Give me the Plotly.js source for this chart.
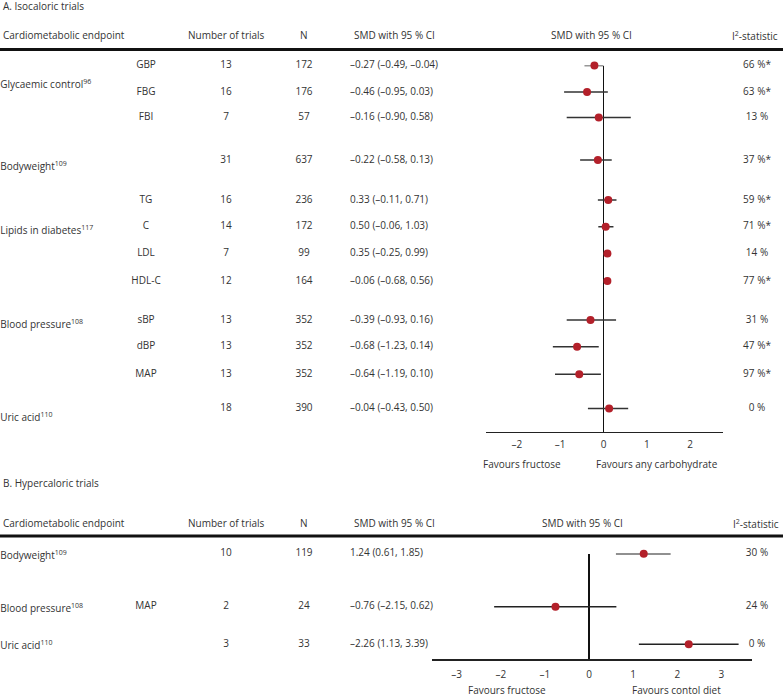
<!DOCTYPE html>
<html>
<head>
<meta charset="utf-8">
<script src="https://cdn.plot.ly/plotly-3.0.1.min.js"></script>
<style>html,body{margin:0;padding:0;background:#fff;}#chart{width:783px;height:698px;}</style>
</head>
<body>
<div id="chart"></div>
<script>
// ---------- DATA: Panel A (isocaloric trials) ----------
const groupsA = ['Glycaemic control<sup>96</sup>', 'Bodyweight<sup>109</sup>', 'Lipids in diabetes<sup>117</sup>', 'Blood pressure<sup>108</sup>', 'Uric acid<sup>110</sup>'];
const subEndpointsA = ['GBP', 'FBG', 'FBI', '', 'TG', 'C', 'LDL', 'HDL-C', 'sBP', 'dBP', 'MAP', ''];
const trialsA = [13, 16, 7, 31, 16, 14, 7, 12, 13, 13, 13, 18];
const nA = [172, 176, 57, 637, 236, 172, 99, 164, 352, 352, 352, 390];
const smdTextA = ['–0.27 (–0.49, –0.04)', '–0.46 (–0.95, 0.03)', '–0.16 (–0.90, 0.58)', '–0.22 (–0.58, 0.13)',
  '0.33 (–0.11, 0.71)', '0.50 (–0.06, 1.03)', '0.35 (–0.25, 0.99)', '–0.06 (–0.68, 0.56)',
  '–0.39 (–0.93, 0.16)', '–0.68 (–1.23, 0.14)', '–0.64 (–1.19, 0.10)', '–0.04 (–0.43, 0.50)'];
const i2A = ['66 %*', '63 %*', '13 %', '37 %*', '59 %*', '71 %*', '14 %', '77 %*', '31 %', '47 %*', '97 %*', '0 %'];
// plotted positions as drawn in the figure
const estA = [-0.21, -0.38, -0.11, -0.13, 0.11, 0.05, 0.09, 0.09, -0.30, -0.61, -0.56, 0.13];
const loA  = [-0.44, -0.91, -0.85, -0.54, -0.13, -0.12, 0.09, 0.09, -0.85, -1.17, -1.12, -0.36];
const hiA  = [0.00, 0.10, 0.63, 0.19, 0.30, 0.23, 0.09, 0.09, 0.29, -0.11, -0.06, 0.57];
const tickValsA = [-2, -1, 0, 1, 2];
const tickTextA = ['–2', '–1', '0', '1', '2'];

// ---------- DATA: Panel B (hypercaloric trials) ----------
const groupsB = ['Bodyweight<sup>109</sup>', 'Blood pressure<sup>108</sup>', 'Uric acid<sup>110</sup>'];
const subEndpointsB = ['', 'MAP', ''];
const trialsB = [10, 2, 3];
const nB = [119, 24, 33];
const smdTextB = ['1.24 (0.61, 1.85)', '–0.76 (–2.15, 0.62)', '–2.26 (1.13, 3.39)'];
const i2B = ['30 %', '24 %', '0 %'];
const estB = [1.24, -0.76, 2.26];
const loB  = [0.61, -2.15, 1.13];
const hiB  = [1.85, 0.62, 3.39];
const tickValsB = [-3, -2, -1, 0, 1, 2, 3];
const tickTextB = ['–3', '–2', '–1', '0', '1', '2', '3'];

// ---------- LAYOUT (pixel positions) ----------
const W = 783, H = 698;
const rowYA = [65.5, 92, 117.5, 160, 200, 226.7, 253.5, 281, 320, 346.7, 374.3, 408.5];
const groupYA = [85.2, 167.5, 231.8, 325.8, 418.5];
const rowYB = [553.7, 606.7, 644.3];
const groupYB = [556.2, 609.2, 646.8];
const axisYA = 431.7, axisYB = 659.3;
const colX = {label: 0.2, sub: 146, trials: 226, n: 304, smd: 350, i2: 757};
const FONT = 'Open Sans, Liberation Sans, Arial, sans-serif';
const TXT = '#333333';
const FS = 10;
const RED = '#b3202a';

function textTrace(xPos, ys, texts, pos) {
  const xs = [], yy = [], tt = [];
  texts.forEach((t, i) => { if (t !== '') { xs.push(xPos); yy.push(ys[i]); tt.push(t); } });
  return {type: 'scatter', mode: 'text', x: xs, y: yy, text: tt, textposition: pos,
    textfont: {family: FONT, size: FS, color: TXT}, xaxis: 'x3', yaxis: 'y3',
    hoverinfo: 'skip', showlegend: false, cliponaxis: false};
}

const traces = [];
// Panel A table
traces.push(textTrace(colX.label, groupYA, groupsA, 'middle right'));
traces.push(textTrace(colX.sub, rowYA, subEndpointsA, 'middle center'));
traces.push(textTrace(colX.trials, rowYA, trialsA.map(String), 'middle center'));
traces.push(textTrace(colX.n, rowYA, nA.map(String), 'middle center'));
traces.push(textTrace(colX.smd, rowYA, smdTextA, 'middle right'));
traces.push(textTrace(colX.i2, rowYA, i2A, 'middle center'));
// Panel B table
traces.push(textTrace(colX.label, groupYB, groupsB, 'middle right'));
traces.push(textTrace(colX.sub, rowYB, subEndpointsB, 'middle center'));
traces.push(textTrace(colX.trials, rowYB, trialsB.map(String), 'middle center'));
traces.push(textTrace(colX.n, rowYB, nB.map(String), 'middle center'));
traces.push(textTrace(colX.smd, rowYB, smdTextB, 'middle right'));
traces.push(textTrace(colX.i2, rowYB, i2B, 'middle center'));

// Forest markers
traces.push({type: 'scatter', mode: 'markers', x: estA, y: rowYA, xaxis: 'x', yaxis: 'y',
  marker: {color: RED, size: 8}, cliponaxis: false, hoverinfo: 'skip', showlegend: false,
  error_x: {type: 'data', symmetric: false, array: hiA.map((h, i) => h - estA[i]),
    arrayminus: loA.map((l, i) => estA[i] - l), width: 0, thickness: 1.5, color: '#333'}});
traces.push({type: 'scatter', mode: 'markers', x: estB, y: rowYB, xaxis: 'x2', yaxis: 'y2',
  marker: {color: RED, size: 8}, cliponaxis: false, hoverinfo: 'skip', showlegend: false,
  error_x: {type: 'data', symmetric: false, array: hiB.map((h, i) => h - estB[i]),
    arrayminus: loB.map((l, i) => estB[i] - l), width: 0, thickness: 1.5, color: '#222'}});

const forestAxis = {showline: true, linecolor: '#222', linewidth: 1.5, zeroline: true,
  zerolinecolor: '#111', zerolinewidth: 1.5, showgrid: false, ticks: '',
  tickfont: {family: FONT, size: FS, color: TXT}, fixedrange: true};

function ann(x, y, text, xanchor, extra) {
  return Object.assign({x: x, y: y, xref: 'x3', yref: 'y3', text: text, showarrow: false,
    xanchor: xanchor, yanchor: 'middle', font: {family: FONT, size: FS, color: TXT}}, extra || {});
}

const annotations = [
  ann(1, 6, 'A. Isocaloric trials', 'left'),
  ann(1, 35, 'Cardiometabolic endpoint', 'left'),
  ann(226, 35, 'Number of trials', 'center'),
  ann(304, 35, 'N', 'center'),
  ann(352, 35, 'SMD with 95 % CI', 'left'),
  ann(591, 35, 'SMD with 95 % CI', 'center'),
  ann(780, 36, 'I<sup>2</sup>-statistic', 'right'),
  ann(521.7, 464, 'Favours fructose', 'center'),
  ann(656.7, 464, 'Favours any carbohydrate', 'center'),
  ann(1, 483.3, 'B. Hypercaloric trials', 'left'),
  ann(1, 523.3, 'Cardiometabolic endpoint', 'left'),
  ann(226, 523.3, 'Number of trials', 'center'),
  ann(304, 523.3, 'N', 'center'),
  ann(352, 523.3, 'SMD with 95 % CI', 'left'),
  ann(582, 523.3, 'SMD with 95 % CI', 'center'),
  ann(781, 524.3, 'I<sup>2</sup>-statistic', 'right'),
  ann(506.7, 690, 'Favours fructose', 'center'),
  ann(676, 690, 'Favours contol diet', 'center')
];

const layout = {
  width: W, height: H, margin: {l: 0, r: 0, t: 0, b: 0},
  paper_bgcolor: '#fff', plot_bgcolor: 'rgba(0,0,0,0)', showlegend: false,
  font: {family: FONT, size: FS, color: TXT},
  xaxis: Object.assign({}, forestAxis, {domain: [486 / W, 723.3 / W], range: [-2.714, 2.767],
    anchor: 'y', tickvals: tickValsA, ticktext: tickTextA, ticklabelstandoff: 3}),
  yaxis: {domain: [1 - axisYA / H, 1 - 65.5 / H], range: [axisYA, 65.5], visible: false, fixedrange: true, anchor: 'x'},
  xaxis2: Object.assign({}, forestAxis, {domain: [431.7 / W, 751.7 / W], range: [-3.565, 3.687],
    anchor: 'y2', tickvals: tickValsB, ticktext: tickTextB, ticklabelstandoff: 5}),
  yaxis2: {domain: [1 - axisYB / H, 1 - 553.5 / H], range: [axisYB, 553.5], visible: false, fixedrange: true, anchor: 'x2'},
  xaxis3: {domain: [0, 1], range: [0, W], visible: false, fixedrange: true, anchor: 'y3'},
  yaxis3: {domain: [0, 1], range: [H, 0], visible: false, fixedrange: true, anchor: 'x3'},
  shapes: [
    {type: 'line', xref: 'x3', yref: 'y3', x0: 0, x1: W, y0: 49.5, y1: 49.5, line: {color: '#111', width: 3}},
    {type: 'line', xref: 'x3', yref: 'y3', x0: 0, x1: W, y0: 536, y1: 536, line: {color: '#111', width: 3}}
  ],
  annotations: annotations
};

Plotly.newPlot('chart', traces, layout, {displayModeBar: false, staticPlot: true});
</script>
</body>
</html>
